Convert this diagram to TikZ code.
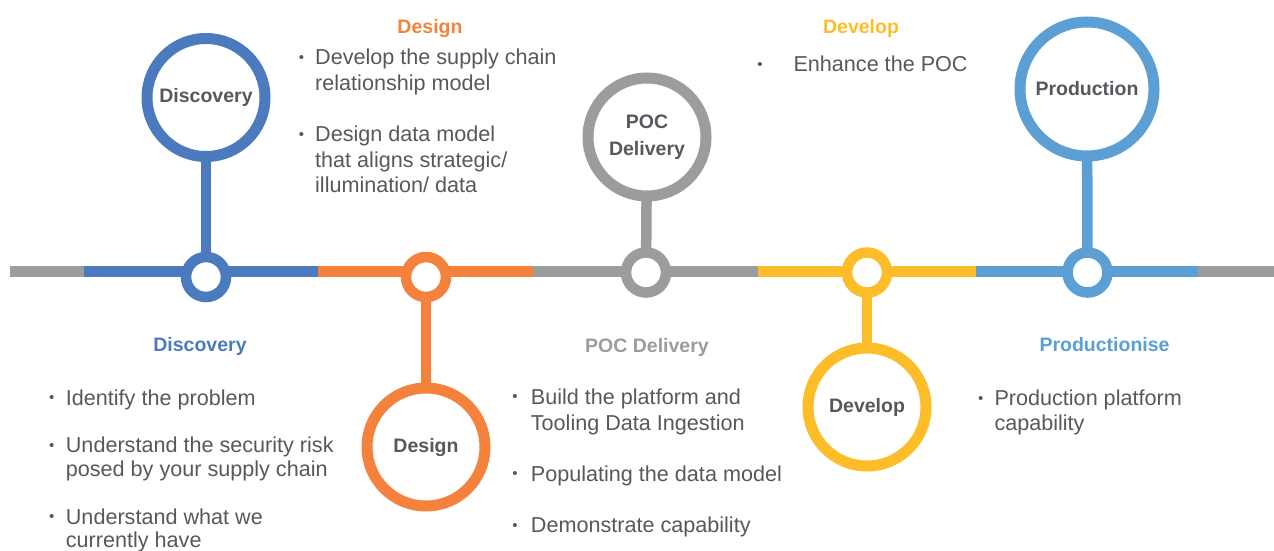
\documentclass[tikz,border=0pt]{standalone}
\usepackage{fontspec}
\setmainfont{Liberation Sans}
\definecolor{cBlue}{RGB}{75,122,190}
\definecolor{cOrange}{RGB}{244,130,61}
\definecolor{cGray}{RGB}{154,156,157}
\definecolor{cYellow}{RGB}{252,189,41}
\definecolor{cLight}{RGB}{91,159,212}
\definecolor{cText}{RGB}{85,88,93}
\begin{document}
\begin{tikzpicture}[x=1pt,y=-1pt,
  seg/.style={line width=11pt},
  stem/.style={line width=10.5pt, shorten <=-1.5pt, shorten >=-1.5pt},
  bigring/.style={circle, draw=#1, line width=11pt, fill=white, minimum size=118pt, inner sep=0pt,
     font=\fontsize{19.5}{26.7}\selectfont\bfseries, text=cText, align=center},
  smallring/.style={circle, draw=#1, line width=10.5pt, fill=white, minimum size=40pt, inner sep=0pt},
  heading/.style={font=\fontsize{19.5}{23}\selectfont\bfseries, text=#1, anchor=base, inner sep=0pt},
  txt/.style={font=\fontsize{21.6}{25.7}\selectfont, text=cText, anchor=base west, inner sep=0pt, align=left},
  bul/.style={font=\fontsize{15}{15}\selectfont, text=cText, anchor=base, inner sep=0pt}
]
\useasboundingbox (0,0) rectangle (1274,551);

% main line coordinates
\coordinate (p0) at (10,271);
\coordinate (p1) at (84,271);
\coordinate (p2) at (318,271);
\coordinate (p3) at (533,271);
\coordinate (p4) at (758,271);
\coordinate (p5) at (976,271);
\coordinate (p6) at (1197.5,271);
\coordinate (p7) at (1274,271);
\draw[seg, cGray] (p0) -- (p1);
\draw[seg, cBlue] (p1) -- (p2);
\draw[seg, cOrange] (p2) -- (p3);
\draw[seg, cGray] (p3) -- (p4);
\draw[seg, cYellow] (p4) -- (p5);
\draw[seg, cLight] (p5) -- (p6);
\draw[seg, cGray] (p6) -- (p7);

% small rings
\node[smallring=cBlue] (s1) at (206,277) {};
\node[smallring=cOrange] (s2) at (426,277) {};
\node[smallring=cGray] (s3) at (646,272.5) {};
\node[smallring=cYellow] (s4) at (867,272.5) {};
\node[smallring=cLight] (s5) at (1087.5,272.5) {};

% big rings
\node[bigring=cBlue] (b1) at (206,97.5) {Discovery};
\node[bigring=cOrange] (b2) at (426,447) {Design};
\node[bigring=cGray] (b3) at (647,137) {POC\\Delivery};
\node[bigring=cYellow] (b4) at (867,407) {Develop};
\node[bigring=cLight, minimum size=134pt] (b5) at (1087,89) {Production};

% stems
\draw[stem, cBlue] (b1) -- (s1);
\draw[stem, cOrange] (s2) -- (b2);
\draw[stem, cGray] (b3) -- (s3);
\draw[stem, cYellow] (s4) -- (b4);
\draw[stem, cLight] (b5) -- (s5);

% headings
\node[heading=cOrange] (hDesign) at (430,33.3) {Design};
\node[heading=cYellow] (hDevelop) at (861,33.3) {Develop};
\node[heading=cBlue] (hDisc) at (200,351.7) {Discovery};
\node[heading=cGray] (hPOC) at (647,352) {POC Delivery};
\node[heading=cLight] (hProd) at (1104.5,351.7) {Productionise};

% Design (top) bullets (anchor = baseline of last line)
\node[bul] (dB1) at (301.5,62.5) {•};
\node[txt] (dT1) at (315,90.7) {Develop the supply chain\\relationship model};
\node[bul] (dB2) at (301.5,139.2) {•};
\node[txt] (dT2) at (315,192.7) {Design data model\\that aligns strategic/\\illumination/ data};

% Develop (top) bullet
\node[bul] (vB1) at (760,69.2) {•};
\node[txt] (vT1) at (793.3,71.7) {Enhance the POC};

% Discovery bullets
\node[bul] (cB1) at (51.7,402.5) {•};
\node[txt] (cT1) at (65.7,405) {Identify the problem};
\node[bul] (cB2) at (51.7,450.2) {•};
\node[txt, font=\fontsize{21.6}{24}\selectfont] (cT2) at (65.7,476.7) {Understand the security risk\\posed by your supply chain};
\node[bul] (cB3) at (51.7,521.5) {•};
\node[txt, font=\fontsize{21.6}{23.7}\selectfont] (cT3) at (65.7,547.7) {Understand what we\\currently have};

% POC bullets
\node[bul] (pB1) at (515,401.8) {•};
\node[txt] (pT1) at (530.7,430) {Build the platform and\\Tooling Data Ingestion};
\node[bul] (pB2) at (515,478.5) {•};
\node[txt] (pT2) at (530.7,481) {Populating the data model};
\node[bul] (pB3) at (515,530.2) {•};
\node[txt] (pT3) at (530.7,532.7) {Demonstrate capability};

% Productionise bullets
\node[bul] (rB1) at (980.7,403.2) {•};
\node[txt, font=\fontsize{21.6}{24.3}\selectfont] (rT1) at (994.3,430) {Production platform\\capability};
\end{tikzpicture}
\end{document}
